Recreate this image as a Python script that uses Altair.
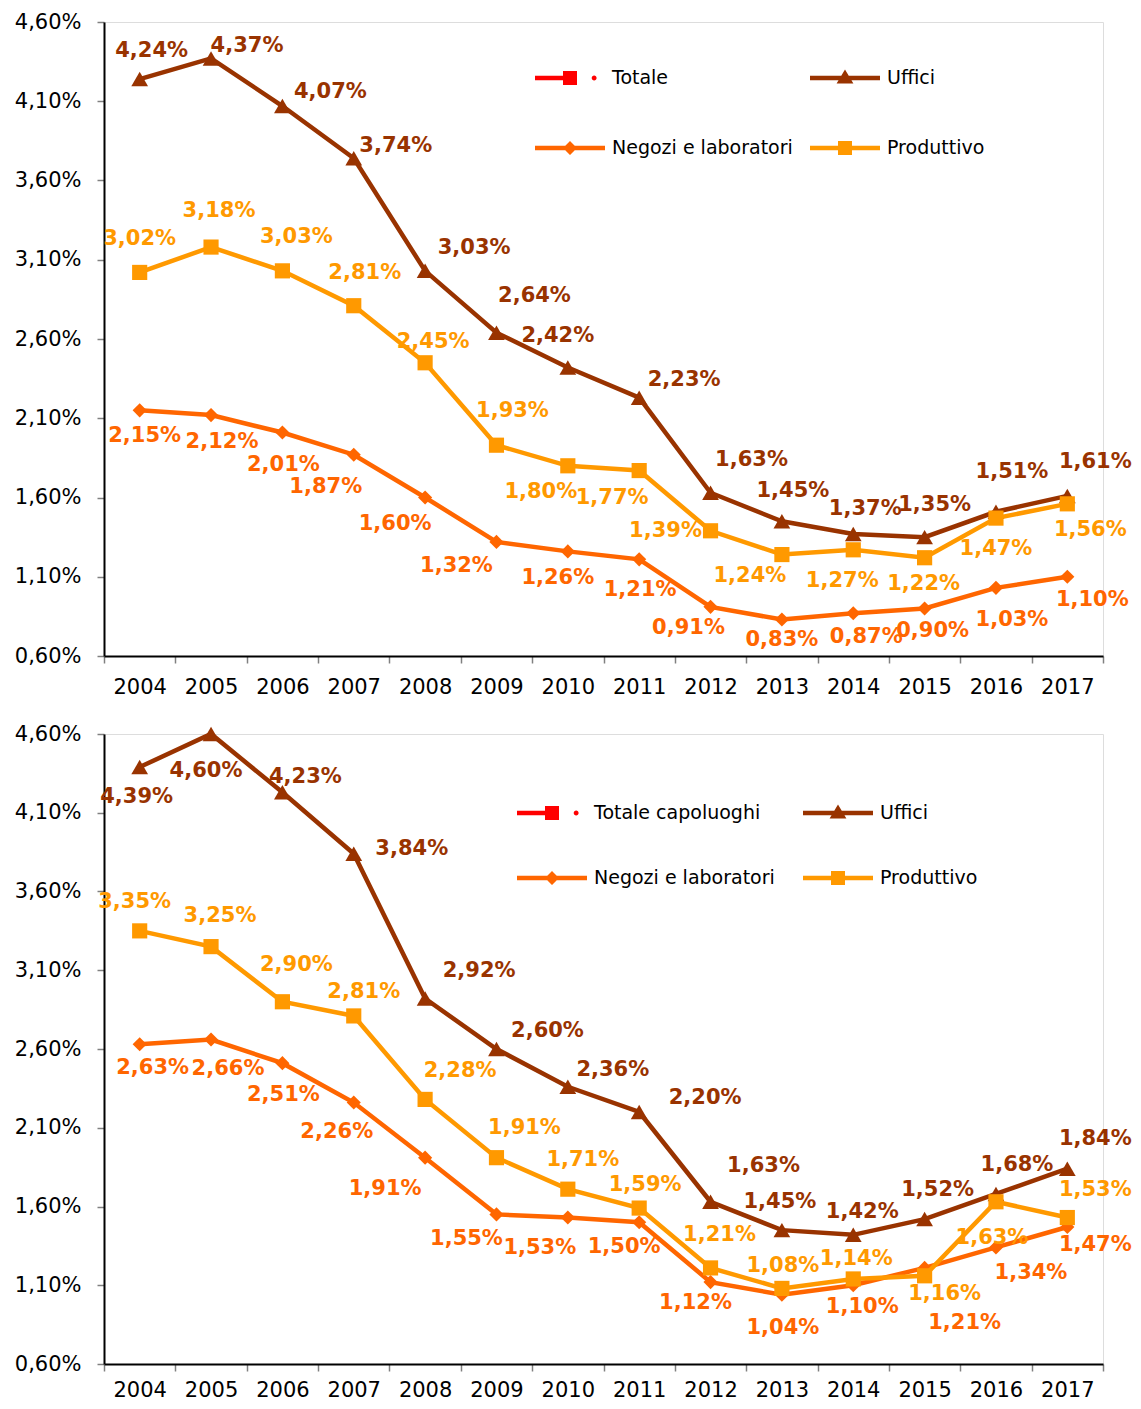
import altair as alt
import pandas as pd

# ---------------- data ----------------
YEARS = list(range(2004, 2018))
SERIES = ["Uffici", "Negozi e laboratori", "Produttivo"]

TOP_UFFICI = [4.24, 4.37, 4.07, 3.74, 3.03, 2.64, 2.42, 2.23, 1.63, 1.45, 1.37, 1.35, 1.51, 1.61]
TOP_NEGOZI = [2.15, 2.12, 2.01, 1.87, 1.60, 1.32, 1.26, 1.21, 0.91, 0.83, 0.87, 0.90, 1.03, 1.10]
TOP_PRODUTTIVO = [3.02, 3.18, 3.03, 2.81, 2.45, 1.93, 1.80, 1.77, 1.39, 1.24, 1.27, 1.22, 1.47, 1.56]

BOT_UFFICI = [4.39, 4.60, 4.23, 3.84, 2.92, 2.60, 2.36, 2.20, 1.63, 1.45, 1.42, 1.52, 1.68, 1.84]
BOT_NEGOZI = [2.63, 2.66, 2.51, 2.26, 1.91, 1.55, 1.53, 1.50, 1.12, 1.04, 1.10, 1.21, 1.34, 1.47]
BOT_PRODUTTIVO = [3.35, 3.25, 2.90, 2.81, 2.28, 1.91, 1.71, 1.59, 1.21, 1.08, 1.14, 1.16, 1.63, 1.53]

Y_TICKS = [0.6, 1.1, 1.6, 2.1, 2.6, 3.1, 3.6, 4.1, 4.6]
LEGEND_TOP = ["Totale", "Uffici", "Negozi e laboratori", "Produttivo"]
LEGEND_BOT = ["Totale capoluoghi", "Uffici", "Negozi e laboratori", "Produttivo"]

# ---------------- style ----------------
COLORS = {"Uffici": "#993300", "Negozi e laboratori": "#FF6600", "Produttivo": "#FF9900"}
SHAPES = {"Uffici": "triangle-up", "Negozi e laboratori": "diamond", "Produttivo": "square"}
SIZES = {"Uffici": 280, "Negozi e laboratori": 200, "Produttivo": 230}
LEGEND_COLORS = ["#FF0000", "#993300", "#FF6600", "#FF9900"]
LINE = "M-1,-0.065 H1 V0.065 H-1 Z "
LEGEND_PATHS = [
    "M-1,-0.065 H0 V0.065 H-1 Z M-0.2,-0.2 H0.2 V0.2 H-0.2 Z M0.62,0 A0.07,0.07 0 1,0 0.76,0 A0.07,0.07 0 1,0 0.62,0 Z",
    LINE + "M0,-0.24 L0.24,0.16 L-0.24,0.16 Z",
    LINE + "M0,-0.2 L0.2,0 L0,0.2 L-0.2,0 Z",
    LINE + "M-0.2,-0.2 H0.2 V0.2 H-0.2 Z",
]

# label offsets (pixels) relative to each point
TOP_OFF = [
    [(12, -28), (36, -12), (48, -14), (42, -12), (49, -23), (38, -37), (-10, -32), (45, -18), (41, -33), (11, -30), (12, -25), (10, -32), (16, -40), (28, -34)],
    [(5, 26), (11, 27), (1, 32), (-28, 32), (-30, 26), (-40, 24), (-10, 27), (1, 31), (-22, 21), (0, 20), (13, 24), (8, 23), (16, 32), (25, 23)],
    [(0, -33), (8, -36), (14, -34), (11, -33), (8, -21), (16, -34), (-27, 26), (-27, 27), (-45, 0), (-32, 21), (-11, 31), (-1, 26), (0, 31), (23, 26)],
]
BOT_OFF = [
    [(-3, 30), (-5, 37), (23, -15), (58, -5), (54, -28), (51, -18), (45, -17), (66, -14), (53, -36), (-2, -28), (9, -23), (13, -29), (21, -29), (28, -30)],
    [(13, 24), (17, 29), (1, 32), (-17, 29), (-40, 31), (-30, 25), (-28, 30), (-15, 25), (-15, 21), (1, 33), (9, 22), (40, 55), (35, 26), (28, 18)],
    [(-5, -29), (9, -31), (14, -37), (10, -24), (35, -28), (28, -30), (15, -29), (6, -23), (9, -33), (1, -22), (3, -20), (20, 18), (-4, 36), (28, -28)],
]

FONT = "DejaVu Sans"
W = 999
H_TOP, H_BOT = 634, 630


def panel(values, offs, legend_names, lx, ly, row_pad, col_pad, x_label_pad, h):
    rows = []
    for name, vals, off in zip(SERIES, values, offs):
        for yr, v, (dx, dy) in zip(YEARS, vals, off):
            rows.append({"year": yr, "series": name, "value": v, "ldx": dx, "ldy": dy})
    df = pd.DataFrame(rows)
    base = alt.Chart(df)

    x = alt.X(
        "year:O", title=None, bandPosition=0.5,
        scale=alt.Scale(type="band", paddingInner=0, paddingOuter=0),
        axis=alt.Axis(labelAngle=0, labelFontSize=21, labelFont=FONT, labelColor="black",
                      labelPadding=x_label_pad, tickBand="extent", tickSize=7, tickColor="#808080",
                      tickWidth=1.5, domainColor="black", domainWidth=2, grid=False),
    )
    y = alt.Y(
        "value:Q", title=None,
        scale=alt.Scale(domain=[0.6, 4.6], nice=False, zero=False),
        axis=alt.Axis(values=Y_TICKS, labelExpr="replace(format(datum.value, '.2f'), '.', ',') + '%'",
                      labelFontSize=21, labelFont=FONT, labelColor="black", labelPadding=16,
                      tickSize=7, tickColor="#808080", tickWidth=1.5, domainColor="black",
                      domainWidth=2, grid=False),
    )

    layers = []
    for name in SERIES:
        sub = base.transform_filter(alt.datum.series == name)
        layers.append(sub.mark_line(color=COLORS[name], strokeWidth=4.5).encode(x=x, y=y))
        layers.append(
            sub.mark_point(shape=SHAPES[name], filled=True, opacity=1, size=SIZES[name],
                           color=COLORS[name]).encode(x=x, y=y)
        )

    labels = base.transform_calculate(
        lab="replace(format(datum.value, '.2f'), '.', ',') + '%'"
    ).mark_text(
        font=FONT, fontSize=21, fontWeight="bold", align="center", baseline="middle",
        dx=alt.ExprRef("datum.ldx"), dy=alt.ExprRef("datum.ldy"),
    ).encode(
        x=x, y=y, text="lab:N",
        color=alt.Color("series:N", scale=alt.Scale(domain=SERIES, range=[COLORS[s] for s in SERIES]),
                        legend=None),
    )
    layers.append(labels)

    leg = alt.Legend(
        title=None, orient="none", legendX=lx, legendY=ly, columns=2, direction="horizontal",
        columnPadding=col_pad, rowPadding=row_pad, symbolSize=4900, symbolStrokeWidth=0,
        symbolOpacity=1, labelFont=FONT, labelFontSize=19, labelColor="black",
        labelOffset=7, labelLimit=400, padding=0,
    )
    ldf = pd.DataFrame({"name": legend_names})
    legend_layer = alt.Chart(ldf).mark_point(filled=True, opacity=0, size=10).encode(
        x=alt.value(W / 2), y=alt.value(h / 2),
        fill=alt.Fill("name:N", scale=alt.Scale(domain=legend_names, range=LEGEND_COLORS), legend=leg),
        shape=alt.Shape("name:N", scale=alt.Scale(domain=legend_names, range=LEGEND_PATHS), legend=leg),
    )
    layers.append(legend_layer)

    return alt.layer(*layers).properties(width=W, height=h)


top = panel([TOP_UFFICI, TOP_NEGOZI, TOP_PRODUTTIVO], TOP_OFF, LEGEND_TOP, 431, 21, 25, 17, 13, H_TOP)
bot = panel([BOT_UFFICI, BOT_NEGOZI, BOT_PRODUTTIVO], BOT_OFF, LEGEND_BOT, 413, 44, 20, 28, 8, H_BOT)

chart = alt.vconcat(top, bot, spacing=24).resolve_scale(
    fill="independent", shape="independent"
).resolve_legend(
    fill="independent", shape="independent"
).properties(
    padding={"left": 5, "top": 2, "right": 0, "bottom": 0}
).configure_view(
    stroke="#808080", strokeWidth=2
).configure(
    font=FONT
)

chart.save("out.html", embed_options={"renderer": "svg", "actions": False})
